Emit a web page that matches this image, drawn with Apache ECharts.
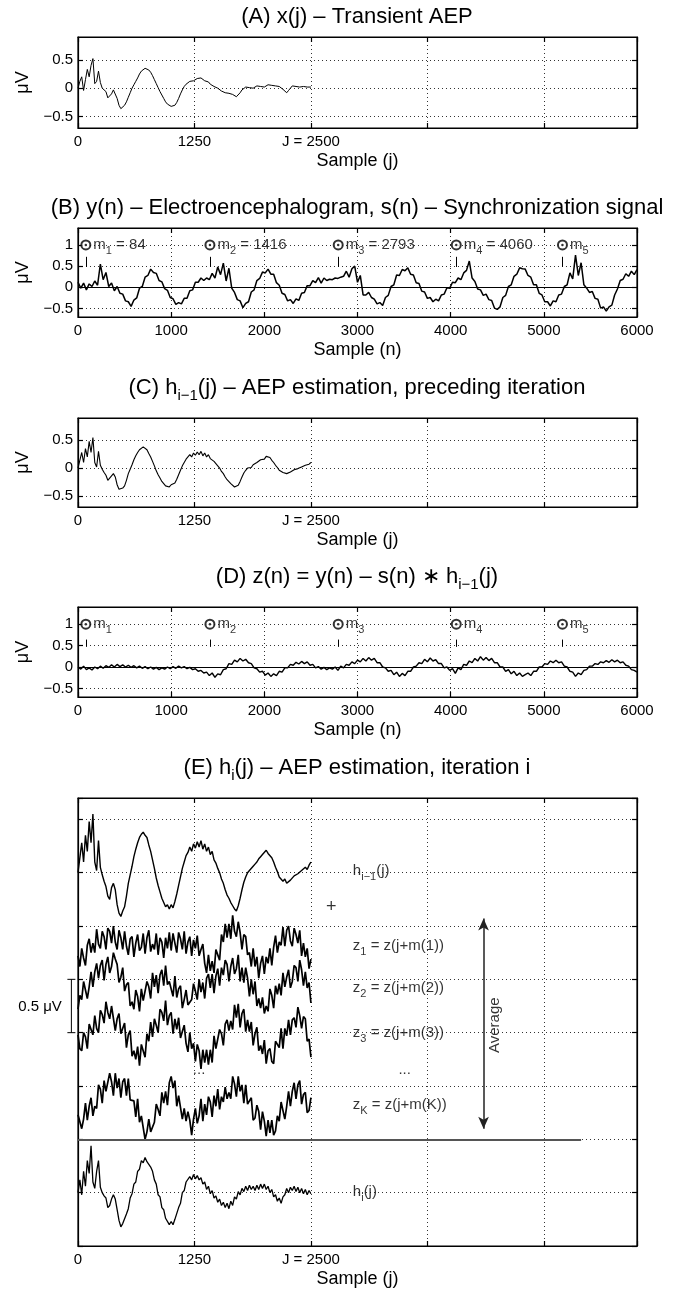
<!DOCTYPE html>
<html>
<head>
<meta charset="utf-8">
<script src="https://cdn.jsdelivr.net/npm/echarts@6/dist/echarts.min.js"></script>
<style>
  html, body { margin: 0; padding: 0; background: #fff; }
  #main { width: 684px; height: 1291px; }
</style>
</head>
<body>
<div id="main"></div>
<script>
// sample spacing of the typed traces
const stepJ = 20;   // panels A, C, E  (j = 0..2500)
const stepN = 30;   // panels B, D     (n = 0..6000)

// (A) x(j) - transient AEP
const xA = [
  0, 0.12, 0.2, -0.04, 0.15, 0.33, 0.2, 0.4, 0.52, 0.08,
  0.12, 0.3, 0.1, 0.0, -0.02, -0.06, -0.17, -0.16, -0.1, -0.03,
  -0.05, -0.18, -0.3, -0.36, -0.34, -0.3, -0.24, -0.16, -0.08, 0.0,
  0.06, 0.12, 0.18, 0.25, 0.3, 0.33, 0.35, 0.34, 0.32, 0.28,
  0.22, 0.15, 0.08, 0.01, -0.06, -0.12, -0.18, -0.24, -0.28, -0.31,
  -0.32, -0.32, -0.3, -0.25, -0.18, -0.1, -0.03, 0.03, 0.07, 0.1,
  0.12, 0.14, 0.13, 0.16, 0.17, 0.15, 0.18, 0.15, 0.13, 0.1,
  0.11, 0.07, 0.05, 0.03, 0.04, 0.0, -0.02, -0.05, -0.04, -0.08,
  -0.1, -0.09, -0.12, -0.11, -0.14, -0.15, -0.13, -0.08, -0.03, 0.0,
  0.02, -0.01, 0.01, 0.03, 0.0, 0.02, 0.04, 0.01, 0.03, 0.05,
  0.02, 0.04, 0.06, 0.03, 0.05, 0.03, 0.04, 0.01, 0.03, 0.0,
  -0.02, -0.05, -0.08, -0.04, 0.0, 0.04, 0.07, 0.03, 0.05, 0.02,
  0.05, 0.03, 0.06, 0.02, 0.04, 0.02
];

// (B) y(n) - EEG
const yB = [
  0.12, -0.02, 0.1, -0.06, 0.08, 0.02, 0.15, 0.05, 0.55, 0.18,
  0.35, 0.02, 0.1, -0.08, 0.02, -0.14, -0.16, -0.32, -0.34, -0.45,
  -0.3, -0.25, -0.02, 0.02, 0.24, 0.28, 0.43, 0.35, 0.33, 0.16,
  0.13, -0.03, -0.07, -0.24, -0.27, -0.4, -0.36, -0.39, -0.26, -0.26,
  -0.08, -0.06, 0.12, 0.12, 0.22, 0.16, 0.22, 0.18, 0.33, 0.22,
  0.48, 0.3, 0.57, 0.15, 0.45, -0.02, -0.12, -0.29, -0.32, -0.48,
  -0.38, -0.34, -0.11, -0.06, 0.16, 0.21, 0.36, 0.34, 0.43, 0.31,
  0.31, 0.11, 0.05, -0.14, -0.17, -0.32, -0.29, -0.38, -0.27, -0.31,
  -0.14, -0.12, 0.04, 0.04, 0.16, 0.11, 0.23, 0.1, 0.22, 0.16,
  0.19, 0.18, 0.22, 0.21, 0.24, 0.26, 0.38, 0.24, 0.44, 0.5,
  0.12, 0.28, -0.18, -0.18, -0.12, -0.24, -0.28, -0.39, -0.36, -0.43,
  -0.24, -0.19, 0.02, 0.06, 0.29, 0.28, 0.42, 0.39, 0.46, 0.31,
  0.29, 0.11, 0.09, -0.09, -0.11, -0.26, -0.24, -0.34, -0.28, -0.32,
  -0.18, -0.16, -0.01, -0.02, 0.12, 0.11, 0.22, 0.18, 0.34, 0.4,
  0.62, 0.22, 0.14, -0.04, -0.06, -0.19, -0.16, -0.29, -0.31, -0.49,
  -0.52, -0.46, -0.24, -0.19, 0.02, 0.06, 0.26, 0.31, 0.46, 0.44,
  0.43, 0.28, 0.24, 0.06, 0.06, -0.14, -0.18, -0.34, -0.34, -0.44,
  -0.32, -0.34, -0.18, -0.16, 0.02, 0.06, 0.34, 0.2, 0.76, 0.28,
  0.58, 0.06, -0.02, -0.12, -0.1, -0.26, -0.28, -0.49, -0.46, -0.56,
  -0.46, -0.42, -0.18, -0.04, 0.16, 0.19, 0.32, 0.26, 0.38, 0.3,
  0.42
];

// synchronization instants
const mSync = [84, 1416, 2793, 4060, 5200];
const mText = ['84', '1416', '2793', '4060', ''];

// (C) h_{i-1}(j)
const hPrev = [
  0, 0.0, 0.28, 0.1, 0.35, 0.2, 0.48, 0.28, 0.55, 0.1,
  0.02, 0.3, 0.05, -0.02, -0.08, -0.13, -0.22, -0.25, -0.14, -0.1,
  -0.16, -0.3, -0.38, -0.41, -0.36, -0.32, -0.22, -0.1, -0.02, 0.06,
  0.15, 0.22, 0.28, 0.33, 0.36, 0.38, 0.35, 0.33, 0.26, 0.2,
  0.12, 0.04, -0.05, -0.12, -0.18, -0.24, -0.28, -0.32, -0.3, -0.34,
  -0.3, -0.33, -0.27, -0.2, -0.12, -0.04, 0.04, 0.1, 0.16, 0.19,
  0.24, 0.2, 0.27, 0.23, 0.29, 0.24, 0.3, 0.22, 0.27, 0.2,
  0.24, 0.17, 0.2, 0.12, 0.09, 0.04, 0.0, -0.06, -0.1, -0.16,
  -0.21, -0.24, -0.28, -0.31, -0.34, -0.36, -0.31, -0.24, -0.16, -0.09,
  -0.04, 0.0, 0.02, 0.01, 0.06, 0.08, 0.1, 0.13, 0.15, 0.17,
  0.16, 0.21, 0.18, 0.19, 0.14, 0.1, 0.05, 0.01, -0.04, -0.03,
  -0.08, -0.06, -0.1, -0.11, -0.07, -0.06, -0.03, -0.04, -0.01, -0.02,
  0.02, 0.01, 0.05, 0.03, 0.07, 0.1
];

// (D) z(n)
const zD = [
  0.0, -0.05, 0.02, -0.06, -0.02, -0.07, 0.0, -0.04, 0.02, -0.03,
  0.03, -0.01, 0.05, 0.0, 0.06, 0.01, 0.05, 0.0, 0.04, -0.01,
  0.03, -0.02, 0.02, -0.03, 0.01, -0.04, 0.0, -0.05, -0.01, -0.06,
  -0.02, -0.05, 0.0, -0.04, 0.01, -0.03, 0.02, -0.02, 0.01, -0.04,
  -0.01, -0.06, -0.04, -0.1, -0.08, -0.14, -0.12, -0.2, -0.14, -0.24,
  -0.16, -0.18, -0.06, -0.04, 0.08, 0.06, 0.16, 0.12, 0.2, 0.14,
  0.18, 0.1, 0.08, -0.02, -0.04, -0.12, -0.1, -0.19, -0.14, -0.22,
  -0.16, -0.2, -0.1, -0.12, -0.02, -0.02, 0.06, 0.04, 0.11, 0.07,
  0.13, 0.08, 0.12, 0.04, 0.06, -0.02, 0.01, -0.05, -0.01, -0.06,
  -0.02, -0.05, 0.0, -0.08, 0.02, -0.02, 0.06, 0.04, 0.12, 0.08,
  0.16, 0.12, 0.2, 0.14, 0.22, 0.16, 0.2, 0.1, 0.1, 0.0,
  -0.02, -0.1, -0.08, -0.18, -0.12, -0.22, -0.15, -0.2, -0.1, -0.1,
  0.0, 0.02, 0.1, 0.08, 0.18, 0.12, 0.21, 0.14, 0.17, 0.08,
  0.08, -0.02, 0.0, -0.08, -0.04, -0.15, -0.02, -0.06, 0.06, 0.04,
  0.14, 0.1, 0.2, 0.14, 0.24, 0.16, 0.22, 0.15, 0.2, 0.1,
  0.1, 0.0, 0.0, -0.1, -0.06, -0.16, -0.1, -0.2, -0.14, -0.22,
  -0.18, -0.14, -0.2, -0.1, -0.1, 0.0, 0.0, 0.08, 0.06, 0.14,
  0.1, 0.16, 0.1, 0.12, 0.02, 0.0, -0.1, -0.12, -0.22, -0.14,
  -0.18, -0.08, -0.06, 0.02, 0.02, 0.08, 0.06, 0.12, 0.1, 0.15,
  0.11, 0.17, 0.12, 0.16, 0.1, 0.12, 0.04, 0.02, -0.06, -0.08,
  -0.12
];

// (E) epochs z_k(j) around their own baseline, and h_i(j)
const z1 = [
  -0.08, -0.18, -0.01, -0.1, -0.17, 0.02, 0.08, -0.05, 0.04, -0.05,
  0.17, 0.03, -0.01, 0.15, 0.1, -0.02, 0.18, 0.15, 0.04, 0.2,
  0.05, -0.02, 0.16, 0.09, -0.02, 0.15, 0.01, -0.07, 0.08, 0.1,
  -0.09, 0.04, 0.12, -0.03, 0.0, 0.13, -0.06, 0.09, 0.16, -0.04,
  0.03, -0.02, 0.13, -0.07, 0.09, 0.05, -0.1, 0.09, -0.01, 0.14,
  -0.03, 0.13, 0.04, -0.05, 0.14, 0.08, -0.02, 0.15, -0.06, 0.05,
  0.1, -0.08, 0.07, -0.01, 0.11, -0.08, -0.02, 0.03, -0.15, -0.24,
  -0.07, -0.22, -0.13, -0.24, -0.02, -0.02, -0.12, 0.12, 0.05, 0.22,
  0.09, 0.22, 0.08, 0.3, 0.15, 0.1, 0.24, 0.14, -0.02, 0.12,
  0.1, -0.07, -0.05, -0.18, -0.01, -0.18, -0.09, -0.29, -0.15, -0.08,
  -0.25, -0.09, -0.15, -0.01, -0.17, 0.0, 0.11, -0.05, 0.05, 0.02,
  0.19, 0.01, 0.16, 0.2, 0.06, 0.01, 0.18, 0.12, 0.04, 0.16,
  -0.08, 0.04, -0.09, -0.01, -0.2, -0.11
];
const z2 = [
  -0.21, -0.08, -0.12, 0.05, 0.04, -0.11, 0.0, 0.14, 0.0, 0.14,
  0.22, 0.08, 0.2, 0.25, 0.06, 0.21, 0.28, 0.13, 0.19, 0.32,
  0.26, 0.21, 0.04, 0.09, 0.18, -0.04, 0.02, 0.04, -0.18, -0.14,
  -0.21, -0.03, -0.09, -0.23, -0.02, -0.13, -0.13, 0.05, 0.0, -0.11,
  0.13, 0.0, 0.11, -0.06, 0.11, 0.16, 0.01, 0.2, 0.02, 0.05,
  0.04, -0.09, 0.1, -0.1, -0.02, 0.01, -0.2, -0.12, -0.03, -0.17,
  -0.18, -0.12, 0.03, -0.04, -0.12, 0.07, -0.05, 0.04, -0.11, 0.08,
  0.12, -0.01, 0.12, -0.06, 0.1, 0.17, 0.01, 0.18, 0.11, 0.25,
  0.21, 0.05, 0.19, 0.27, 0.12, 0.17, 0.3, 0.05, 0.18, 0.04,
  0.18, 0.08, -0.09, 0.07, -0.07, 0.05, -0.18, -0.11, -0.2, -0.1,
  -0.25, -0.18, -0.23, -0.02, -0.08, -0.2, 0.01, -0.07, 0.03, -0.08,
  0.13, 0.0, 0.09, 0.16, -0.01, 0.05, 0.2, 0.18, 0.05, 0.25,
  0.16, 0.01, 0.14, -0.01, 0.04, -0.15
];
const z3 = [
  0.0, -0.13, -0.15, 0.02, -0.02, -0.13, 0.1, 0.09, 0.0, 0.18,
  0.06, 0.02, 0.23, 0.19, 0.11, 0.31, 0.21, 0.15, 0.27, 0.26,
  0.04, 0.15, 0.2, 0.01, 0.02, 0.11, -0.12, 0.0, 0.04, -0.2,
  -0.15, -0.23, -0.11, -0.29, -0.09, -0.09, -0.21, 0.01, -0.06, 0.12,
  -0.02, 0.15, 0.09, 0.02, 0.24, 0.21, 0.13, 0.32, 0.09, 0.18,
  0.21, 0.01, 0.15, 0.05, 0.16, -0.03, 0.03, 0.09, -0.08, -0.16,
  0.02, -0.13, -0.08, -0.25, -0.09, -0.15, -0.32, -0.14, -0.26, -0.14,
  -0.28, -0.14, -0.26, -0.01, -0.13, -0.14, 0.05, 0.01, -0.1, 0.1,
  0.14, 0.04, 0.13, 0.05, 0.28, 0.16, 0.29, 0.07, 0.2, 0.24,
  0.03, 0.14, 0.03, 0.12, -0.1, 0.01, 0.07, -0.15, -0.1, -0.18,
  -0.05, -0.27, -0.15, -0.13, -0.25, -0.27, -0.06, -0.09, -0.12, 0.06,
  -0.13, 0.06, -0.01, 0.14, 0.0, 0.14, 0.16, 0.07, 0.26, 0.18,
  0.06, 0.17, 0.15, -0.06, -0.04, -0.21
];
const zK = [
  -0.07, -0.07, -0.2, -0.11, 0.04, -0.12, 0.01, 0.09, -0.08, 0.01,
  -0.01, 0.21, 0.17, 0.04, 0.25, 0.15, 0.14, 0.32, 0.24, 0.11,
  0.32, 0.18, 0.27, 0.09, 0.24, 0.27, 0.11, 0.27, 0.07, 0.08,
  0.06, -0.09, 0.08, -0.14, -0.08, -0.07, -0.3, -0.23, -0.11, -0.23,
  -0.22, -0.14, 0.03, -0.02, -0.08, 0.14, 0.04, 0.15, 0.02, 0.23,
  0.29, 0.18, 0.25, 0.01, 0.11, 0.11, -0.11, -0.01, -0.13, -0.04,
  -0.12, -0.26, -0.11, -0.01, -0.15, -0.08, 0.08, -0.13, 0.03, -0.07,
  0.1, 0.05, -0.09, 0.11, 0.01, 0.17, -0.02, 0.1, 0.05, 0.19,
  0.08, 0.14, 0.08, 0.29, 0.22, 0.1, 0.29, 0.15, 0.21, 0.04,
  0.21, 0.03, 0.06, 0.09, -0.12, -0.1, 0.02, -0.04, -0.21, -0.04,
  -0.13, -0.27, -0.12, -0.24, -0.12, -0.26, -0.22, -0.08, -0.13, 0.05,
  0.04, -0.11, 0.01, 0.15, 0.01, 0.15, 0.23, 0.08, 0.21, 0.25,
  0.03, 0.12, 0.14, -0.05, -0.03, 0.09
];
const hNew = [
  0.0, 0.12, -0.02, 0.2, 0.06, 0.3, 0.18, 0.44, 0.1, 0.04,
  0.2, 0.3, 0.05, 0.0, -0.03, -0.05, -0.14, -0.12, -0.06, -0.02,
  -0.06, -0.16, -0.26, -0.32, -0.29, -0.28, -0.2, -0.15, -0.05, -0.01,
  0.08, 0.1, 0.2, 0.22, 0.3, 0.28, 0.33, 0.29, 0.3, 0.24,
  0.2, 0.12, 0.08, -0.02, -0.04, -0.14, -0.16, -0.24, -0.25, -0.3,
  -0.27, -0.3, -0.25, -0.24, -0.14, -0.1, 0.0, 0.02, 0.1, 0.09,
  0.15, 0.12, 0.17, 0.13, 0.16, 0.12, 0.14, 0.08, 0.1, 0.03,
  0.06, -0.01, 0.02, -0.05, -0.03, -0.09, -0.06, -0.12, -0.09, -0.14,
  -0.1, -0.15, -0.08, -0.12, -0.04, -0.06, 0.01, -0.02, 0.04, 0.01,
  0.06, 0.02, 0.07, 0.03, 0.06, 0.02, 0.07, 0.03, 0.08, 0.04,
  0.08, 0.03, 0.06, 0.0, 0.03, -0.04, -0.02, -0.08, -0.05, -0.1,
  -0.04, -0.02, 0.04, 0.0, 0.05, 0.02, 0.06, 0.01, 0.05, 0.0,
  0.04, -0.01, 0.03, -0.02, 0.02, -0.01
];

// tick labels
const jTickText = { 0: '0', 1250: '1250', 2500: 'J = 2500' };
const yTicksAC = [-0.5, 0, 0.5];
const yTicksBD = [-0.5, 0, 0.5, 1];

const FONT = "'Liberation Sans', Arial, Helvetica, sans-serif";
const BLACK = { color: '#000', width: 1.2 };
const DOT = { color: '#333', width: 1, type: [1, 3] };
const fmtY = v => (v < 0 ? '\u2212' : '') + Math.abs(v);
const toXY = (arr, step, base) => arr.map((v, i) => [i * step, v + (base || 0)]);

const richL = {
  m: { fontSize: 15, fontFamily: FONT, color: '#000' },
  s: { fontSize: 11, fontFamily: FONT, color: '#000', padding: [12, 0, 0, 0] }
};
const richT = {
  t: { fontSize: 22, fontFamily: FONT, fill: '#000' },
  s: { fontSize: 15, fontFamily: FONT, fill: '#000', padding: [16, 0, 0, 0] }
};

const panels = [
  { top: 37, height: 91, kind: 'j', ymin: -0.7, ymax: 0.9, ticks: yTicksAC },
  { top: 228, height: 89, kind: 'n', ymin: -0.7, ymax: 1.4, ticks: yTicksBD },
  { top: 418, height: 89, kind: 'j', ymin: -0.7, ymax: 0.9, ticks: yTicksAC },
  { top: 607, height: 90, kind: 'n', ymin: -0.7, ymax: 1.4, ticks: yTicksBD },
  { top: 798, height: 448, kind: 'j', ymin: 0, ymax: 4.2, ticks: null }
];

const grid = [], xAxis = [], yAxis = [];
panels.forEach((p, i) => {
  grid.push({ left: 78, right: 47, top: p.top, height: p.height, show: true,
    borderColor: '#000', borderWidth: 1.2, outerBoundsMode: 'none' });
  const xc = { type: 'value', gridIndex: i, min: 0, max: 6000, interval: p.kind === 'j' ? 1250 : 1000 };
  xAxis.push({ ...xc, position: 'bottom',
    axisLine: { show: true, onZero: false, lineStyle: BLACK },
    axisTick: { show: true, inside: true, length: 5, lineStyle: BLACK },
    axisLabel: { show: true, margin: 6, fontSize: 15, color: '#000', fontFamily: FONT,
      formatter: p.kind === 'j' ? (v => jTickText[v] || '') : (v => String(v)) },
    splitLine: { show: true, lineStyle: DOT },
    name: p.kind === 'j' ? 'Sample (j)' : 'Sample (n)', nameLocation: 'middle', nameGap: 24,
    nameTextStyle: { fontSize: 18, color: '#000', fontFamily: FONT } });
  xAxis.push({ ...xc, position: 'top', axisLine: { show: true, onZero: false, lineStyle: BLACK },
    axisTick: { show: true, inside: true, length: 5, lineStyle: BLACK },
    axisLabel: { show: false }, splitLine: { show: false } });

  const yc = { type: 'value', gridIndex: i, min: p.ymin, max: p.ymax };
  if (!p.ticks) yc.interval = 0.5;
  const tick = { show: true, inside: true, length: 5, lineStyle: BLACK };
  if (p.ticks) tick.customValues = p.ticks;
  yAxis.push({ ...yc, position: 'left', axisLine: { show: true, onZero: false, lineStyle: BLACK },
    axisTick: tick,
    axisLabel: p.ticks ? { show: true, customValues: p.ticks, margin: 5, fontSize: 15, color: '#000',
      fontFamily: FONT, formatter: fmtY } : { show: false },
    splitLine: { show: true, lineStyle: DOT },
    name: p.ticks ? '\u03bcV' : '', nameLocation: 'middle', nameGap: 42,
    nameTextStyle: { fontSize: 18, color: '#000', fontFamily: FONT } });
  yAxis.push({ ...yc, position: 'right', axisLine: { show: true, onZero: false, lineStyle: BLACK },
    axisTick: tick, axisLabel: { show: false }, splitLine: { show: false } });
});

const trace = (i, data, width) => ({
  type: 'line', xAxisIndex: 2 * i, yAxisIndex: 2 * i, data, symbol: 'none', showSymbol: false,
  lineStyle: { color: '#000', width: width || 1 }, silent: true, z: 3
});

const zeroAndStems = (lo, hi) => ({
  silent: true, symbol: 'none', label: { show: false },
  lineStyle: { color: '#000', type: 'solid', width: 1 },
  data: [{ yAxis: 0 }].concat(mSync.map(m => [{ coord: [m, lo] }, { coord: [m, hi] }]))
});

const markerSeries = (i, withValue) => [
  { type: 'scatter', xAxisIndex: 2 * i, yAxisIndex: 2 * i, symbol: 'emptyCircle', symbolSize: 9,
    itemStyle: { color: '#000', borderColor: '#000', borderWidth: 1 }, silent: true, z: 5,
    label: { show: true, position: 'right', distance: 2, rich: richL },
    data: mSync.map((m, k) => ({ value: [m, 1],
      label: { formatter: '{m|m}{s|' + (k + 1) + '}' + (withValue && mText[k] ? '{m| = ' + mText[k] + '}' : '') } })) },
  { type: 'scatter', xAxisIndex: 2 * i, yAxisIndex: 2 * i, symbol: 'circle', symbolSize: 2.5,
    itemStyle: { color: '#000' }, silent: true, z: 6, data: mSync.map(m => [m, 1]) }
];

const eLabel = (x, y, text, extra) => Object.assign({ value: [x, y], label: { formatter: text } }, extra || {});

const traceB = trace(1, toXY(yB, stepN), 1.5);
traceB.markLine = zeroAndStems(0.48, 0.72);
const traceD = trace(3, toXY(zD, stepN), 1.4);
traceD.markLine = zeroAndStems(0.47, 0.64);
const traceHi = trace(4, toXY(hNew, stepJ, 0.5), 1.3);
traceHi.markLine = { silent: true, symbol: 'none', label: { show: false },
  data: [
    [{ coord: [0, 1.0], lineStyle: { color: '#555', width: 2, type: 'solid' } }, { coord: [5400, 1.0] }],
    [{ coord: [4353, 1.1], symbol: 'arrow', symbolSize: [8, 12], lineStyle: { color: '#222', width: 1.5, type: 'solid' } },
     { coord: [4353, 3.07], symbol: 'arrow', symbolSize: [8, 12] }]
  ] };

const series = [
  trace(0, toXY(xA, stepJ)),
  traceB,
  ...markerSeries(1, true),
  trace(2, toXY(hPrev, stepJ), 1.1),
  traceD,
  ...markerSeries(3, false),
  trace(4, toXY(hPrev, stepJ, 3.5), 1.4),
  trace(4, toXY(z1, stepJ, 2.8), 1.7),
  trace(4, toXY(z2, stepJ, 2.43), 1.7),
  trace(4, toXY(z3, stepJ, 1.98), 1.7),
  trace(4, toXY(zK, stepJ, 1.3), 1.7),
  traceHi,
  // scale bar 0.5 uV, left of panel E
  { type: 'custom', xAxisIndex: 8, yAxisIndex: 8, silent: true, clip: false,
    data: [[-71, 2.0, 2.5]],
    renderItem: (params, api) => {
      const a = api.coord([api.value(0), api.value(1)]);
      const b = api.coord([api.value(0), api.value(2)]);
      const st = { stroke: '#000', lineWidth: 1 };
      return { type: 'group', children: [
        { type: 'line', shape: { x1: a[0], y1: a[1], x2: b[0], y2: b[1] }, style: st },
        { type: 'line', shape: { x1: a[0] - 4, y1: a[1], x2: a[0] + 4, y2: a[1] }, style: st },
        { type: 'line', shape: { x1: b[0] - 4, y1: b[1], x2: b[0] + 4, y2: b[1] }, style: st }
      ] };
    } },
  // annotations in panel E
  { type: 'scatter', xAxisIndex: 8, yAxisIndex: 8, symbolSize: 0, silent: true, z: 6,
    label: { show: true, position: 'right', distance: 0, rich: richL },
    data: [
      eLabel(2950, 3.52, '{m|h}{s|i\u22121}{m|(j)}'),
      eLabel(2950, 2.81, '{m|z}{s|1}{m| = z(j+m(1))}'),
      eLabel(2950, 2.42, '{m|z}{s|2}{m| = z(j+m(2))}'),
      eLabel(2950, 2.0, '{m|z}{s|3}{m| = z(j+m(3))}'),
      eLabel(2950, 1.32, '{m|z}{s|K}{m| = z(j+m(K))}'),
      eLabel(2950, 0.51, '{m|h}{s|i}{m|(j)}')
    ] },
  { type: 'scatter', xAxisIndex: 8, yAxisIndex: 8, symbolSize: 0, silent: true, z: 6,
    label: { show: true, position: 'inside', color: '#000', fontSize: 15, fontFamily: FONT },
    data: [
      eLabel(2717, 3.18, '+', { label: { formatter: '+', fontSize: 18 } }),
      eLabel(1300, 1.65, '...'),
      eLabel(3506, 1.65, '...'),
      eLabel(4470, 2.07, 'Average', { label: { formatter: 'Average', rotate: 90 } })
    ] }
];

const titles = [
  { y: 17, text: '{t|(A) x(j) \u2013 Transient AEP}' },
  { y: 208, text: '{t|(B) y(n) \u2013 Electroencephalogram, s(n) \u2013 Synchronization signal}' },
  { y: 388, text: '{t|(C) h}{s|i\u22121}{t|(j) \u2013 AEP estimation, preceding iteration}' },
  { y: 577, text: '{t|(D) z(n) = y(n) \u2013 s(n) \u2217 h}{s|i\u22121}{t|(j)}' },
  { y: 768, text: '{t|(E) h}{s|i}{t|(j) \u2013 AEP estimation, iteration i}' }
];

const chart = echarts.init(document.getElementById('main'), null, { renderer: 'canvas' });
chart.setOption({
  animation: false,
  backgroundColor: '#fff',
  grid, xAxis, yAxis, series,
  graphic: titles.map(t => ({ type: 'text', x: 357, y: t.y, silent: true,
    style: { text: t.text, rich: richT, align: 'center', verticalAlign: 'middle', fill: '#000' } }))
    .concat([{ type: 'text', x: 40, y: 1007, silent: true,
      style: { text: '0.5 \u03bcV', fontSize: 15, fontFamily: FONT, fill: '#000', align: 'center', verticalAlign: 'middle' } }])
});
</script>
</body>
</html>
